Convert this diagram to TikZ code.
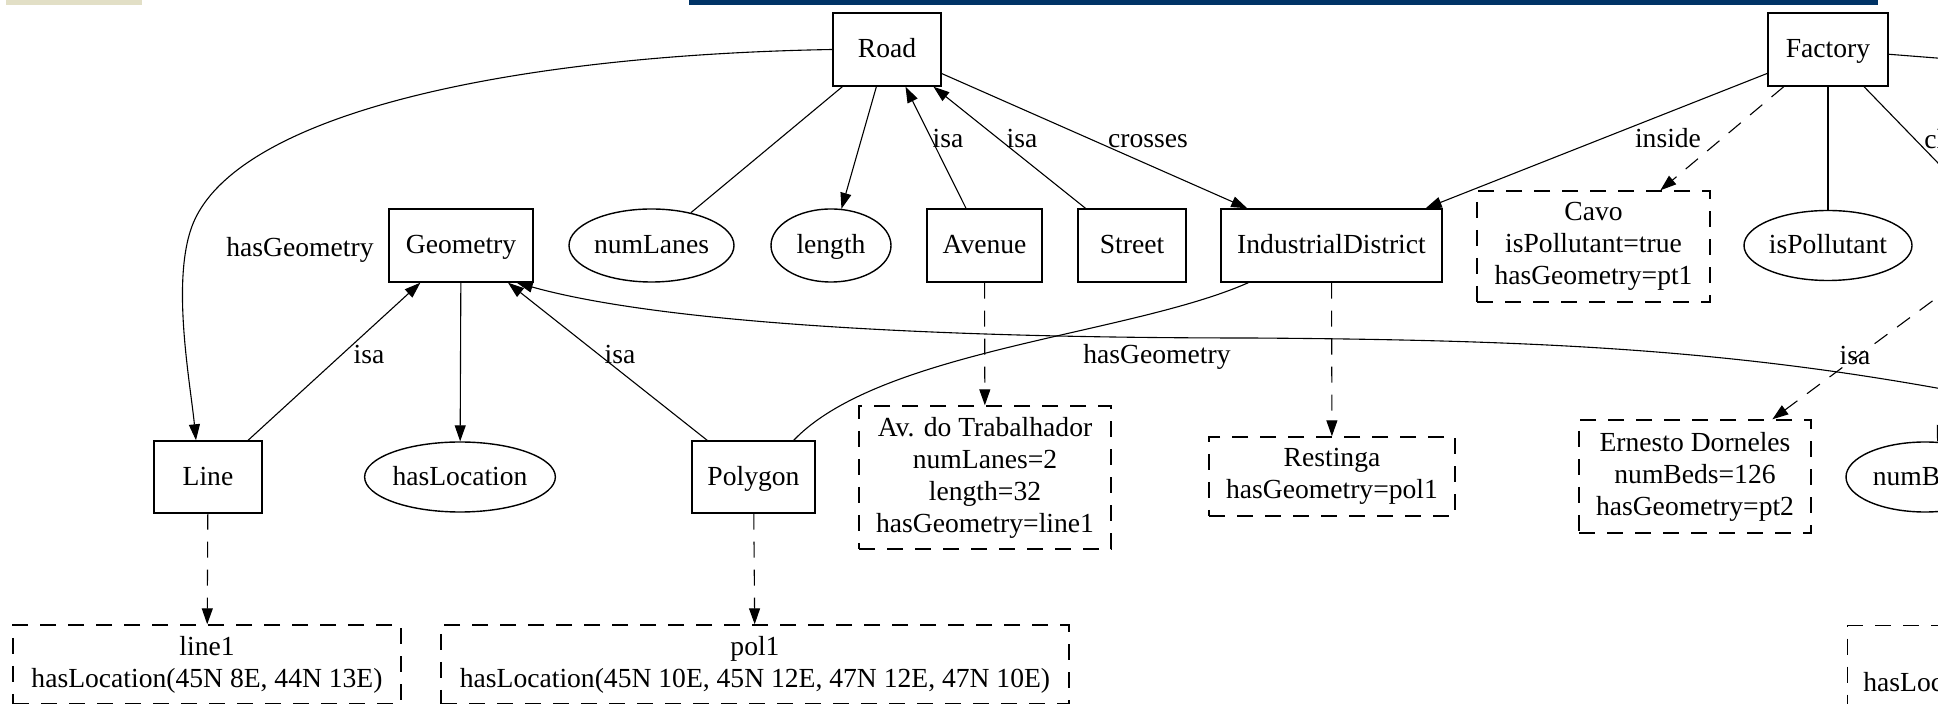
\documentclass[tikz,border=0pt]{standalone}
\usepackage{fontspec}
\setmainfont{Liberation Serif}
\usetikzlibrary{shapes.geometric,arrows.meta,calc}
\definecolor{barbeige}{HTML}{E2DFC6}
\definecolor{barnavy}{HTML}{003366}
\begin{document}
\begin{tikzpicture}[x=0.5pt,y=-0.5pt,
  font=\fontsize{13.8}{16}\selectfont,
  every node/.style={inner sep=0pt},
  cls/.style={draw, rectangle, line width=0.7pt, minimum height=36.5pt, text height=0.9em, text depth=0.08em},
  attr/.style={draw, ellipse, line width=0.7pt, minimum height=35pt, text height=0.9em, text depth=0.08em},
  inst/.style={draw, rectangle, dash pattern=on 8pt off 6pt, line width=0.7pt, align=center},
  edge/.style={line width=0.55pt},
  arr/.style={edge, -{Triangle[length=8pt,width=5.5pt]}},
  dedge/.style={dash pattern=on 8pt off 6pt},
  lbl/.style={anchor=base}
]
\useasboundingbox (0,0) rectangle (1938,704);
\fill[white] (0,0) rectangle (1938,704);
\clip (0,0) rectangle (1938,704);
\fill[barbeige] (6,0) rectangle (142,5);
\fill[barnavy] (689,0) rectangle (1878,5);

% classes
\node[cls, minimum width=54pt] (Road) at (887,49.5) {Road};
\node[cls, minimum width=60pt] (Factory) at (1828,49.5) {Factory};
\node[cls, minimum width=72pt] (Geometry) at (461,245.5) {Geometry};
\node[cls, minimum width=57.5pt] (Avenue) at (984.5,245.5) {Avenue};
\node[cls, minimum width=54pt] (Street) at (1132,245.5) {Street};
\node[cls, minimum width=110.5pt] (ID) at (1331.5,245.5) {IndustrialDistrict};
\node[cls, minimum width=54pt, minimum height=36pt] (Line) at (208,477) {Line};
\node[cls, minimum width=61.5pt, minimum height=36pt] (Polygon) at (753.5,477) {Polygon};

% attributes
\node[attr, minimum width=82.5pt, minimum height=36.5pt] (numLanes) at (651.5,245.5) {numLanes};
\node[attr, minimum width=60pt, minimum height=36.5pt] (length) at (831,245.5) {length};
\node[attr, minimum width=84pt] (isPollutant) at (1828,245.5) {isPollutant};
\node[attr, minimum width=93.5pt] (hasLocation) at (460,477) {hasLocation};
\node[attr, minimum width=79pt] (numBeds) at (1925,477) {numBeds};

% instances
\node[inst, minimum width=116.5pt, minimum height=55.5pt] (Cavo) at (1593.5,246.5) {Cavo\\isPollutant=true\\hasGeometry=pt1};
\node[inst, minimum width=126pt, minimum height=71.5pt] (AvT) at (985,477.5) {Av. do Trabalhador\\numLanes=2\\length=32\\hasGeometry=line1};
\node[inst, minimum width=123pt, minimum height=39.5pt] (Restinga) at (1332,476.5) {Restinga\\hasGeometry=pol1};
\node[inst, minimum width=116pt, minimum height=56.5pt] (Ernesto) at (1695,476.5) {Ernesto Dorneles\\numBeds=126\\hasGeometry=pt2};
\node[inst, minimum width=194pt, minimum height=39.5pt] (line1) at (207,664.5) {line1\\hasLocation(45N 8E, 44N 13E)};
\node[inst, minimum width=314pt, minimum height=39.5pt] (pol1) at (755,664.5) {pol1\\hasLocation(45N 10E, 45N 12E, 47N 12E, 47N 10E)};
\node[inst, minimum width=194pt, minimum height=39.5pt, anchor=north west] (ptbox) at (1847,625) {};
\node[anchor=base west] (ptloc) at (1863,692) {hasLocation};

% off-picture ends
\coordinate (fR) at (2000,63);
\coordinate (fD) at (2000,227);
\coordinate (hosp) at (2000,251);
\coordinate (nbSrc) at (1975,330);
\coordinate (ptS) at (2000,400);

% edges
\draw[arr] (Road.west) .. controls (520,55) and (250,110) .. (196,217)
  .. controls (169,270.5) and (190,380) .. ($(Line.north)+(-12,0)$);
\draw[edge] (Road) -- (numLanes);
\draw[arr] (Road) -- (length);
\draw[arr] (Avenue) -- (Road);
\draw[arr] (Street) -- (Road);
\draw[arr] (Road) -- (ID);
\draw[arr] (Factory) -- (ID);
\draw[arr, dedge] (Factory) -- (Cavo);
\draw[edge] (Factory) -- (isPollutant);
\draw[edge] (Factory) -- (fR);
\draw[edge] (Factory) -- (fD);
\draw[arr] (Geometry) -- (hasLocation);
\draw[arr] (Line) -- (Geometry);
\draw[arr] (Polygon) -- (Geometry);
\draw[arr, dedge] (Avenue) -- (AvT);
\draw[arr, dedge] (ID) -- (Restinga);
\draw[arr, dedge] (Line) -- (line1);
\draw[arr, dedge] (Polygon) -- (pol1);
\draw[arr, dedge] (hosp) -- (Ernesto);
\draw[arr] (nbSrc) -- (numBeds);
\draw[edge] ($(ID.south west)+(28,0)$) .. controls (1130,335) and (880,350) .. ($(Polygon.north east)+(-22,0)$);
\draw[arr] (ptS) .. controls (1750,350) and (1550,340) .. (1250,338)
  .. controls (900,338) and (650,320) .. ($(Geometry.south east)+(-17,0)$);

% labels
\node[lbl] (lHG1) at (300,257) {hasGeometry};
\node[lbl] (lIsa1) at (369,364) {isa};
\node[lbl] (lIsa2) at (620,364) {isa};
\node[lbl] (lHG2) at (1157,364) {hasGeometry};
\node[lbl] (lIsa3) at (1855,365) {isa};
\node[lbl] (lIsa4) at (948,148) {isa};
\node[lbl] (lIsa5) at (1022,148) {isa};
\node[lbl] (lCross) at (1148,148) {crosses};
\node[lbl] (lInside) at (1668,148) {inside};
\node[anchor=base west] (lC) at (1924,149) {closeTo};
\end{tikzpicture}
\end{document}
